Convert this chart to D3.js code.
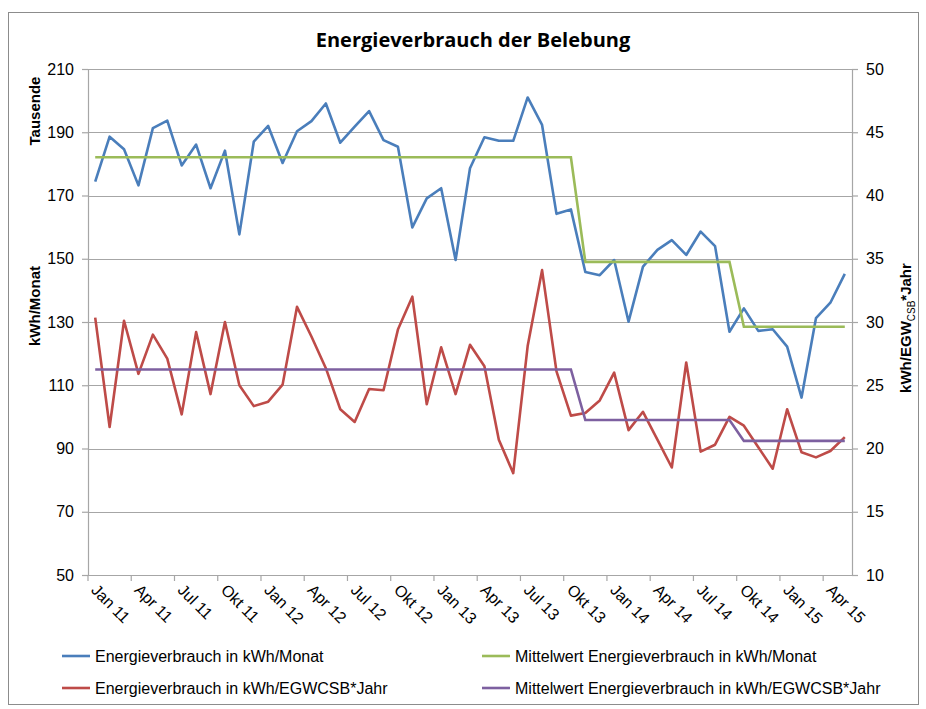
<!DOCTYPE html>
<html>
<head>
<meta charset="utf-8">
<script src="https://cdn.jsdelivr.net/npm/d3@7"></script>
<style>
  body { margin: 0; background: #fff; }
  text { font-family: "Liberation Sans", Arial, sans-serif; fill: #000; }
</style>
</head>
<body>
<div id="chart"></div>
<script>
const months = [
  "Jan 11","Feb 11","Mrz 11","Apr 11","Mai 11","Jun 11","Jul 11","Aug 11","Sep 11","Okt 11","Nov 11","Dez 11",
  "Jan 12","Feb 12","Mrz 12","Apr 12","Mai 12","Jun 12","Jul 12","Aug 12","Sep 12","Okt 12","Nov 12","Dez 12",
  "Jan 13","Feb 13","Mrz 13","Apr 13","Mai 13","Jun 13","Jul 13","Aug 13","Sep 13","Okt 13","Nov 13","Dez 13",
  "Jan 14","Feb 14","Mrz 14","Apr 14","Mai 14","Jun 14","Jul 14","Aug 14","Sep 14","Okt 14","Nov 14","Dez 14",
  "Jan 15","Feb 15","Mrz 15","Apr 15","Mai 15"
];

// Energieverbrauch in kWh/Monat (Tausende, linke Achse)
const kwhMonat = [
  174.4, 188.6, 184.6, 173.2, 191.3, 193.7, 179.5, 186.1, 172.3, 184.2,
  157.7, 187.0, 192.0, 180.3, 190.3, 193.5, 199.1, 186.7, 191.8, 196.7,
  187.5, 185.4, 159.9, 169.1, 172.3, 149.6, 178.6, 188.4, 187.3, 187.3,
  201.0, 192.3, 164.2, 165.6, 145.8, 144.8, 149.6, 130.1, 147.5, 152.8,
  155.9, 151.2, 158.6, 154.0, 126.9, 134.3, 127.2, 127.7, 122.2, 106.1,
  131.2, 136.1, 145.2
];

// Energieverbrauch in kWh/EGWCSB*Jahr (rechte Achse)
const kwhEgw = [
  30.35, 21.7, 30.1, 25.9, 29.0, 27.1, 22.7, 29.2, 24.3, 30.0,
  25.0, 23.35, 23.7, 25.05, 31.2, 28.85, 26.35, 23.1, 22.1, 24.7,
  24.6, 29.4, 32.0, 23.5, 28.0, 24.3, 28.2, 26.5, 20.7, 18.05,
  28.1, 34.1, 26.1, 22.6, 22.8, 23.8, 26.0, 21.45, 22.9, 20.7,
  18.5, 26.8, 19.75, 20.3, 22.5, 21.8, 20.1, 18.4, 23.1, 19.7,
  19.3, 19.8, 20.9
];

// Mittelwerte: Zeitraeume (Index von/bis) und Niveaus
const meanPeriods = [[0, 33], [34, 44], [45, 52]];
const meanKwhMonat = [182.1, 149.0, 128.5];
const meanKwhEgw = [26.25, 22.25, 20.6];

const leftTicks = [50, 70, 90, 110, 130, 150, 170, 190, 210];
const rightTicks = [10, 15, 20, 25, 30, 35, 40, 45, 50];

const seriesNames = [
  "Energieverbrauch in kWh/Monat",
  "Mittelwert Energieverbrauch in kWh/Monat",
  "Energieverbrauch in kWh/EGWCSB*Jahr",
  "Mittelwert Energieverbrauch in kWh/EGWCSB*Jahr"
];
const colors = ["#4a7ebb", "#9bbb59", "#be4b48", "#7d60a0"];

const width = 926, height = 709;
const margin = { top: 69, right: 74, bottom: 134, left: 88 };
const innerW = width - margin.left - margin.right;
const innerH = height - margin.top - margin.bottom;

const svg = d3.select("#chart").append("svg")
  .attr("width", width)
  .attr("height", height);

// Rahmen
svg.append("rect")
  .attr("x", 8.5).attr("y", 12.5)
  .attr("width", 910).attr("height", 692)
  .attr("fill", "none").attr("stroke", "#8c8c8c");

svg.append("text")
  .attr("x", 473).attr("y", 47)
  .attr("text-anchor", "middle")
  .style("font-family", "'Open Sans', sans-serif")
  .style("font-weight", "bold")
  .style("font-size", "20px")
  .text("Energieverbrauch der Belebung");

const g = svg.append("g").attr("transform", `translate(${margin.left},${margin.top})`);

const x = d3.scaleBand().domain(months).range([0, innerW]).padding(0);
const yL = d3.scaleLinear().domain([50, 210]).range([innerH, 0]);
const yR = d3.scaleLinear().domain([10, 50]).range([innerH, 0]);
const cx = d => x(d) + x.bandwidth() / 2;

// Gitterlinien
g.selectAll(".grid").data(leftTicks.slice(1)).enter()
  .append("line")
  .attr("x1", 0).attr("x2", innerW)
  .attr("y1", d => Math.round(yL(d)) + 0.5).attr("y2", d => Math.round(yL(d)) + 0.5)
  .attr("stroke", "#a6a6a6").attr("stroke-width", 1.2);

// linke Achse
const axL = g.append("g")
  .call(d3.axisLeft(yL).tickValues(leftTicks).tickSize(6).tickPadding(8));
axL.selectAll("path, line").attr("stroke", "#a6a6a6").attr("stroke-width", 1.2);
axL.selectAll("text").style("font-size", "16px").style("font-family", "'Liberation Sans', Arial, sans-serif");

// rechte Achse
const axR = g.append("g").attr("transform", `translate(${innerW},0)`)
  .call(d3.axisRight(yR).tickValues(rightTicks).tickSize(6).tickPadding(8));
axR.selectAll("path, line").attr("stroke", "#a6a6a6").attr("stroke-width", 1.2);
axR.selectAll("text").style("font-size", "16px").style("font-family", "'Liberation Sans', Arial, sans-serif");

// x-Achse
const labelled = months.filter((d, i) => i % 3 === 0);
const axB = g.append("g").attr("transform", `translate(0,${innerH})`)
  .call(d3.axisBottom(x).tickValues(labelled).tickSize(0).tickFormat(""));
axB.select("path").attr("stroke", "#a6a6a6").attr("stroke-width", 1.2);
axB.selectAll(".tickmark").data(labelled).enter()
  .append("line")
  .attr("x1", d => x(d)).attr("x2", d => x(d))
  .attr("y1", 0).attr("y2", 6)
  .attr("stroke", "#a6a6a6").attr("stroke-width", 1.2);
axB.selectAll(".xlabel").data(labelled).enter()
  .append("text")
  .attr("transform", d => `translate(${cx(d) - 5},${16}) rotate(45)`)
  .attr("text-anchor", "start")
  .style("font-size", "16px")
  .text(d => d);

// Linien
const lineL = d3.line().x((d, i) => cx(months[i])).y(d => yL(d));
const lineR = d3.line().x((d, i) => cx(months[i])).y(d => yR(d));

function meanPoints(levels) {
  const pts = [];
  meanPeriods.forEach((p, k) => {
    pts.push([months[p[0]], levels[k]]);
    pts.push([months[p[1]], levels[k]]);
  });
  return pts;
}

g.append("path").datum(kwhMonat)
  .attr("d", lineL).attr("fill", "none")
  .attr("stroke", colors[0]).attr("stroke-width", 2.6).attr("stroke-linejoin", "round");

g.append("path").datum(meanPoints(meanKwhMonat))
  .attr("d", d3.line().x(d => cx(d[0])).y(d => yL(d[1])))
  .attr("fill", "none").attr("stroke", colors[1]).attr("stroke-width", 2.6);

g.append("path").datum(kwhEgw)
  .attr("d", lineR).attr("fill", "none")
  .attr("stroke", colors[2]).attr("stroke-width", 2.6).attr("stroke-linejoin", "round");

g.append("path").datum(meanPoints(meanKwhEgw))
  .attr("d", d3.line().x(d => cx(d[0])).y(d => yR(d[1])))
  .attr("fill", "none").attr("stroke", colors[3]).attr("stroke-width", 2.6);

// Achsentitel
svg.append("text")
  .attr("transform", "translate(40,111) rotate(-90)")
  .attr("text-anchor", "middle")
  .style("font-weight", "bold").style("font-size", "15px")
  .text("Tausende");

svg.append("text")
  .attr("transform", "translate(40,306) rotate(-90)")
  .attr("text-anchor", "middle")
  .style("font-weight", "bold").style("font-size", "15px")
  .text("kWh/Monat");

const rt = svg.append("text")
  .attr("transform", "translate(911,328) rotate(-90)")
  .attr("text-anchor", "middle")
  .style("font-weight", "bold").style("font-size", "15px");
rt.append("tspan").text("kWh/EGW");
rt.append("tspan").attr("dy", 4).style("font-size", "10px").style("font-weight", "normal").text("CSB");
rt.append("tspan").attr("dy", -4).text("*Jahr");

// Legende
const legendPos = [[62, 656], [482, 656], [62, 688], [482, 688]];
const legend = svg.selectAll(".legend").data(seriesNames).enter()
  .append("g")
  .attr("transform", (d, i) => `translate(${legendPos[i][0]},${legendPos[i][1]})`);
legend.append("line")
  .attr("x1", 0).attr("x2", 28).attr("y1", 0).attr("y2", 0)
  .attr("stroke", (d, i) => colors[i]).attr("stroke-width", 2.6);
legend.append("text")
  .attr("x", 33).attr("y", 5.5)
  .style("font-size", "16px")
  .text(d => d);
</script>
</body>
</html>
